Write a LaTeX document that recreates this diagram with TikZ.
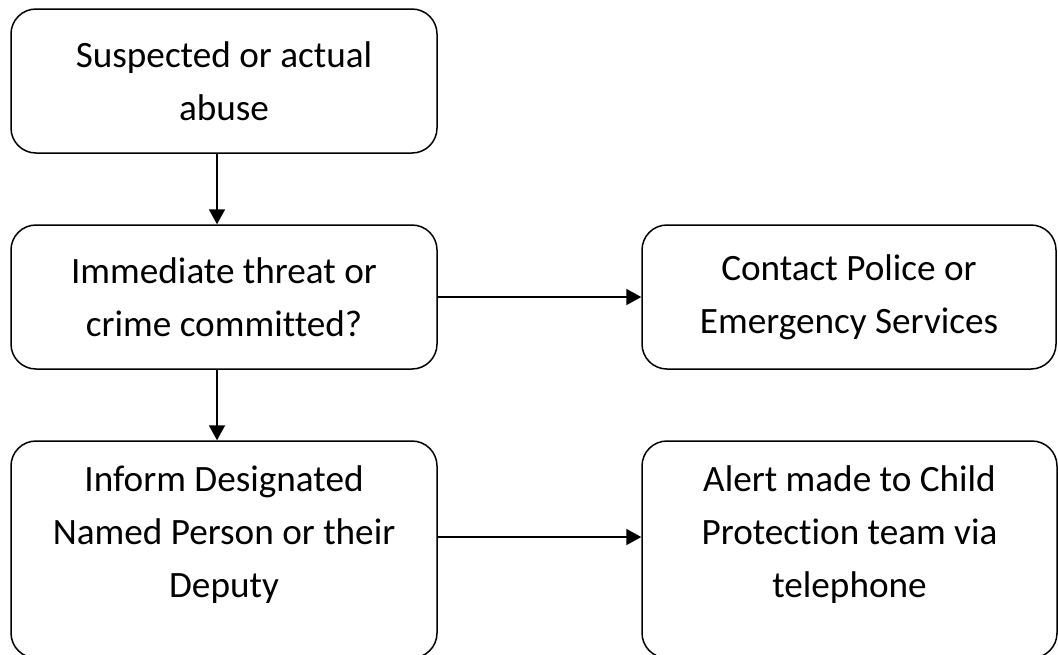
\documentclass[tikz,border=0pt]{standalone}
\usepackage{fontspec}
\setmainfont{Carlito}[Ligatures=NoCommon]
\usepackage{tikz}
\usetikzlibrary{arrows.meta}

\tikzset{
  flowbox/.style={draw, line width=0.75pt, rounded corners=12.5pt,
       inner sep=0pt, align=center, minimum width=213pt,
       font=\fontsize{18.6}{26.3}\selectfont},
  flowarrow/.style={line width=1pt, -{Triangle[length=7.5pt,width=8pt]}}
}

\begin{document}
\begin{tikzpicture}[x=0.5pt, y=-0.5pt]
\clip (0,0) rectangle (1058,654);

\draw (224, 81)
  node[flowbox, minimum height=72pt] (abuse) {Suspected or actual\\abuse};
\draw (224, 297)
  node[flowbox, minimum height=72pt] (threat) {Immediate threat or\\crime committed?};
\draw (849, 297)
  node[flowbox, minimum height=72pt, minimum width=207pt] (police) {Contact Police or\\Emergency Services};
\draw (224, 549.5)
  node[flowbox, minimum height=108.5pt, text depth=18pt] (inform) {Inform Designated\\Named Person or their\\Deputy};
\draw (849.5, 549.5)
  node[flowbox, minimum height=108.5pt, minimum width=207.5pt, text depth=18pt] (alert) {Alert made to Child\\Protection team via\\telephone};

\draw[flowarrow] ([xshift=-3.5pt]abuse.south) -- ([xshift=-3.5pt]threat.north);
\draw[flowarrow] ([xshift=-3.5pt]threat.south) -- ([xshift=-3.5pt]inform.north);
\draw[flowarrow] (threat.east) -- (police.west);
\draw[flowarrow] ([yshift=6.25pt]inform.east) -- ([yshift=6.25pt]alert.west);
\end{tikzpicture}
\end{document}
